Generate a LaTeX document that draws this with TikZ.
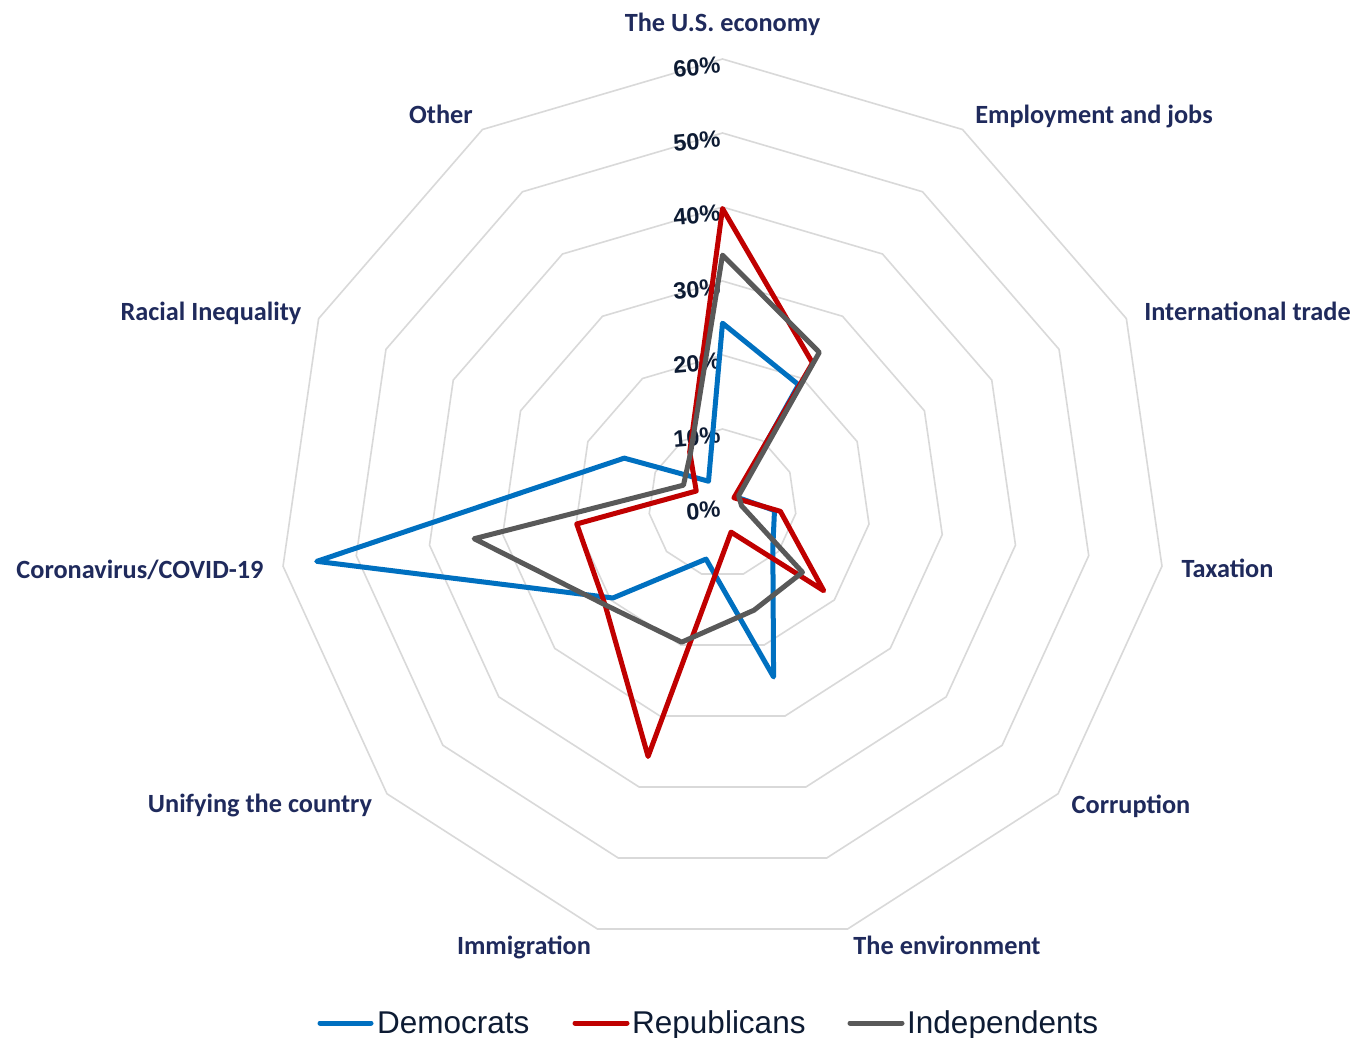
\documentclass[tikz,border=0pt]{standalone}
\usepackage{fontspec}
\setmainfont{Liberation Sans}
\newfontfamily\catfont{Carlito}
\usetikzlibrary{calc}
\definecolor{demblue}{HTML}{0070C0}
\definecolor{repred}{HTML}{C00000}
\definecolor{indgray}{HTML}{595959}
\definecolor{gridgray}{HTML}{D9D9D9}
\definecolor{catnavy}{HTML}{1F2A5C}
\definecolor{txtdark}{HTML}{0D1B33}
\begin{document}
\begin{tikzpicture}[x=1pt,y=-1pt,
  gridline/.style={draw=gridgray, line width=1.6pt, line join=miter},
  series/.style={line width=5pt, line join=round},
  catlabel/.style={font=\catfont\bfseries\fontsize{26.3}{30}\selectfont, text=catnavy, anchor=base, inner sep=0pt},
  pctlabel/.style={font=\bfseries\fontsize{23.5}{27}\selectfont, text=txtdark, anchor=east, inner sep=0pt, rotate=5},
  legtext/.style={font=\fontsize{31.5}{36}\selectfont, text=txtdark, anchor=base west, inner sep=0pt},
  legline/.style={line width=5pt, line cap=round}]
\fill[white] (0,0) rectangle (1357,1037);
\useasboundingbox (0,0) rectangle (1357,1037);

\begin{scope}[shift={(722.5,503)}]
  % grid rings
  \foreach \r in {1,...,6}{
    \draw[gridline] (-90:{\r*74}) \foreach \k in {1,...,10}{ -- ({\k*360/11-90}:{\r*74}) } -- cycle;
  }
  % axis value labels
  \foreach \r in {0,...,6}{
    \pgfmathtruncatemacro\p{\r*10}
    \node[pctlabel] (P\r) at (-2,{-\r*74+6}) {\p\%};
  }
  % data points
  \foreach[count=\k from 0] \v in {24.3,19.0,2.0,7.1,9.0,24.5,7.9,19.6,55.4,14.6,3.5}
    \coordinate (D\k) at ({\k*360/11-90}:{\v*7.4});
  \foreach[count=\k from 0] \v in {39.8,22.5,1.7,7.9,18.1,4.1,35.7,21.0,19.9,3.9,8.2}
    \coordinate (R\k) at ({\k*360/11-90}:{\v*7.4});
  \foreach[count=\k from 0] \v in {33.5,24.2,2.4,2.6,14.3,15.1,19.6,21.0,33.9,5.8,8.0}
    \coordinate (I\k) at ({\k*360/11-90}:{\v*7.4});
\end{scope}

\draw[series, demblue] (D0) -- (D1) -- (D2) -- (D3) -- (D4) -- (D5) -- (D6) -- (D7) -- (D8) -- (D9) -- (D10) -- cycle;
\draw[series, repred] (R0) -- (R1) -- (R2) -- (R3) -- (R4) -- (R5) -- (R6) -- (R7) -- (R8) -- (R9) -- (R10) -- cycle;
\draw[series, indgray] (I0) -- (I1) -- (I2) -- (I3) -- (I4) -- (I5) -- (I6) -- (I7) -- (I8) -- (I9) -- (I10) -- cycle;

% category labels
\node[catlabel] (c0) at (722.5,31) {The U.S. economy};
\node[catlabel] (c1) at (1094,123) {Employment and jobs};
\node[catlabel] (c2) at (1247.5,320) {International trade};
\node[catlabel] (c3) at (1227.5,577) {Taxation};
\node[catlabel] (c4) at (1131,813) {Corruption};
\node[catlabel] (c5) at (947,954) {The environment};
\node[catlabel] (c6) at (524,954) {Immigration};
\node[catlabel] (c7) at (260,812) {Unifying the country};
\node[catlabel] (c8) at (140,578) {Coronavirus/COVID-19};
\node[catlabel] (c9) at (211,320) {Racial Inequality};
\node[catlabel] (c10) at (441,123) {Other};

% legend
\coordinate (lb1) at (320,1023); \coordinate (lb2) at (371,1023);
\coordinate (lr1) at (575,1023); \coordinate (lr2) at (627,1023);
\coordinate (lg1) at (850,1023); \coordinate (lg2) at (902,1023);
\draw[legline, demblue] (lb1) -- (lb2);
\draw[legline, repred] (lr1) -- (lr2);
\draw[legline, indgray] (lg1) -- (lg2);
\node[legtext] (ld) at (377,1033) {Democrats};
\node[legtext] (lr) at (632,1033) {Republicans};
\node[legtext] (li) at (907,1033) {Independents};
\end{tikzpicture}
\end{document}
